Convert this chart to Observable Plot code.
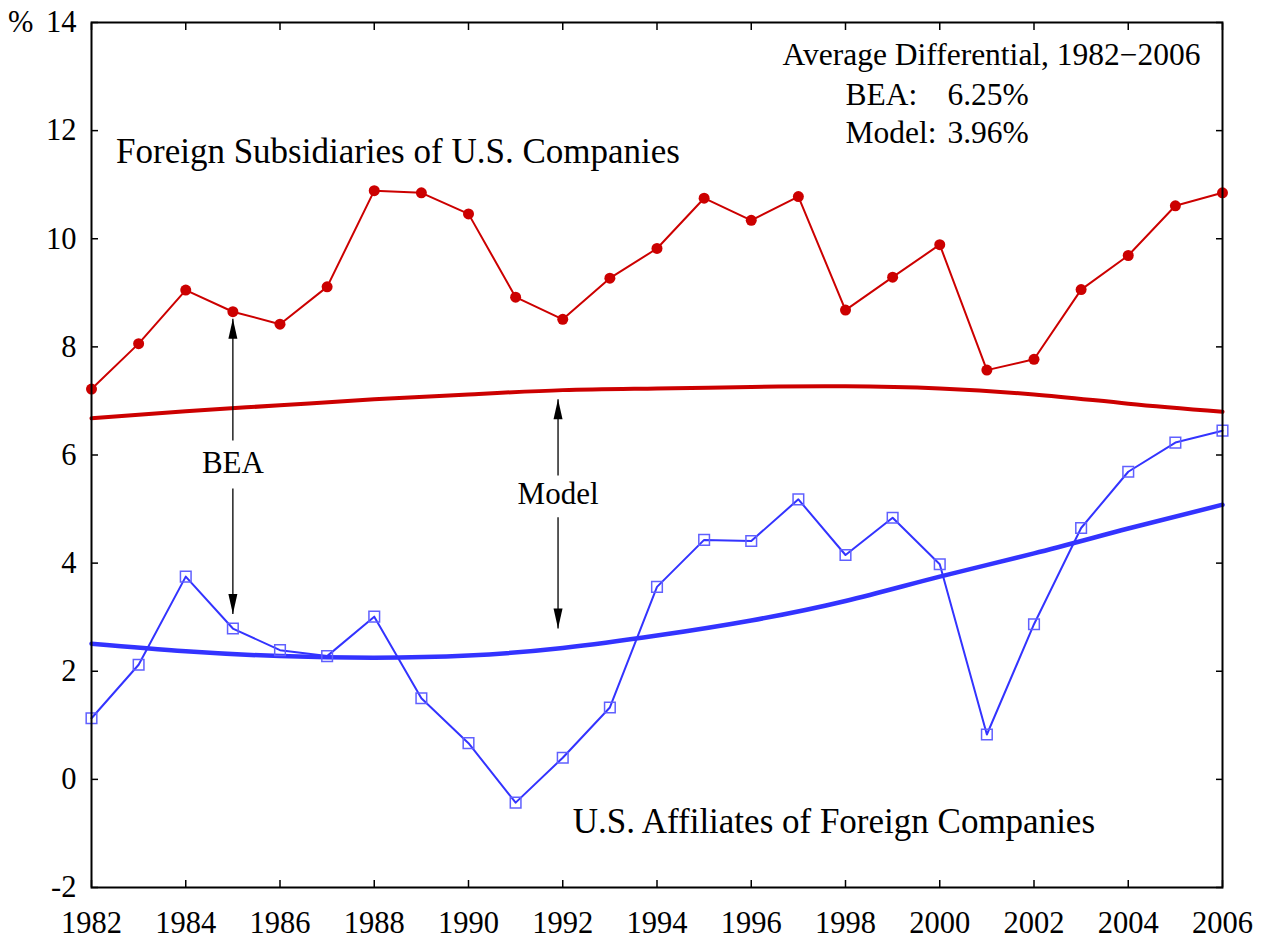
<!DOCTYPE html>
<html>
<head>
<meta charset="utf-8">
<script src="https://cdn.jsdelivr.net/npm/d3@7"></script>
<script src="https://cdn.jsdelivr.net/npm/@observablehq/plot@0.6"></script>
<style>
  html, body { margin: 0; padding: 0; background: #fff; }
  #chart svg { display: block; }
  #chart svg text { font-family: 'Liberation Serif', 'Times New Roman', Times, serif; }
</style>
</head>
<body>
<div id="chart"></div>
<script>
// ---- Data ----
const years = [1982, 1983, 1984, 1985, 1986, 1987, 1988, 1989, 1990, 1991, 1992, 1993, 1994,
               1995, 1996, 1997, 1998, 1999, 2000, 2001, 2002, 2003, 2004, 2005, 2006];
const foreignSubsBEA = [7.22, 8.06, 9.05, 8.65, 8.42, 9.11, 10.89, 10.85, 10.46, 8.92, 8.51, 9.27, 9.82,
                        10.75, 10.34, 10.78, 8.68, 9.29, 9.89, 7.57, 7.77, 9.06, 9.69, 10.61, 10.85];
const usAffiliatesBEA = [1.13, 2.12, 3.75, 2.79, 2.39, 2.28, 3.01, 1.50, 0.67, -0.43, 0.40, 1.33, 3.56,
                         4.43, 4.41, 5.18, 4.15, 4.84, 3.98, 0.83, 2.87, 4.65, 5.69, 6.23, 6.45];
const modelYears = [1982, 1984, 1986, 1988, 1990, 1992, 1994, 1996, 1998, 2000, 2002, 2004, 2006];
const foreignSubsModel = [6.68, 6.81, 6.92, 7.03, 7.12, 7.20, 7.23, 7.26, 7.27, 7.23, 7.12, 6.95, 6.80];
const usAffiliatesModel = [2.51, 2.37, 2.28, 2.25, 2.29, 2.43, 2.66, 2.94, 3.30, 3.75, 4.18, 4.64, 5.08];

const xTicks = [1982, 1984, 1986, 1988, 1990, 1992, 1994, 1996, 1998, 2000, 2002, 2004, 2006];
const yTicks = [-2, 0, 2, 4, 6, 8, 10, 12, 14];
const yUnit = "%";

// annotations (data coordinates)
const seriesLabels = [
  {text: "Foreign Subsidiaries of U.S. Companies", year: 1982.52, value: 11.40},
  {text: "U.S. Affiliates of Foreign Companies", year: 1992.21, value: -0.99}
];
const arrowLabels = [
  {text: "BEA", year: 1985, value: 5.66},
  {text: "Model", year: 1991.9, value: 5.10}
];
const arrows = [
  {year: 1985, from: 6.27, to: 8.52},
  {year: 1985, from: 5.38, to: 3.06},
  {year: 1991.9, from: 5.62, to: 7.03},
  {year: 1991.9, from: 4.85, to: 2.79}
];
const summaryTitle = [{text: "Average Differential, 1982\u22122006", year: 2001.1, value: 13.21}];
const summaryRows = [
  {label: "BEA:", value: "6.25%", labelYear: 1998.0, valueYear: 2001.89, y: 12.47},
  {label: "Model:", value: "3.96%", labelYear: 1998.0, valueYear: 2001.89, y: 11.77}
];

// ---- Tables ----
const bea = years.map((y, i) => ({year: y, fs: foreignSubsBEA[i], us: usAffiliatesBEA[i]}));
const model = modelYears.map((y, i) => ({year: y, fs: foreignSubsModel[i], us: usAffiliatesModel[i]}));

const RED = "#cc0000";
const BLUE = "#3333ff";
const FONT = "'Liberation Serif', 'Times New Roman', Times, serif";
const TICK_FS = 30.5;

// narrow filled arrowhead, tip at origin pointing up
const arrowHead = {
  draw(context) {
    context.moveTo(0, 0);
    context.lineTo(-4.5, 20);
    context.lineTo(4.5, 20);
    context.closePath();
  }
};

const chart = Plot.plot({
  width: 1268,
  height: 946,
  marginLeft: 91,
  marginRight: 46,
  marginTop: 22,
  marginBottom: 59,
  style: {fontFamily: FONT, fontSize: "29px", background: "#fff", color: "#000"},
  x: {domain: [1982, 2006]},
  y: {domain: [-2, 14]},
  marks: [
    // axes: labels
    Plot.axisY({ticks: yTicks, anchor: "left", tickSize: 0, tickPadding: 15, fontSize: TICK_FS, fontFamily: FONT,
                fontVariant: "normal", label: null, tickFormat: d => `${d}`}),
    Plot.axisX({ticks: xTicks, anchor: "bottom", tickSize: 0, tickPadding: 24, fontSize: TICK_FS, fontFamily: FONT,
                fontVariant: "normal", label: null, tickFormat: d => `${d}`}),
    // inward ticks on all sides
    Plot.axisY({ticks: yTicks, anchor: "left", tickSize: -7, fill: "none", label: null, strokeWidth: 1.5}),
    Plot.axisY({ticks: yTicks, anchor: "right", tickSize: -7, fill: "none", label: null, strokeWidth: 1.5}),
    Plot.axisX({ticks: xTicks, anchor: "bottom", tickSize: -7, fill: "none", label: null, strokeWidth: 1.5}),
    Plot.axisX({ticks: xTicks, anchor: "top", tickSize: -7, fill: "none", label: null, strokeWidth: 1.5}),
    Plot.text([yUnit], {frameAnchor: "top-left", text: d => d, textAnchor: "end", lineAnchor: "middle",
                        dx: -58, fontSize: TICK_FS, fontFamily: FONT}),

    // model curves
    Plot.line(model, {x: "year", y: "fs", stroke: RED, strokeWidth: 4, curve: "natural"}),
    Plot.line(model, {x: "year", y: "us", stroke: BLUE, strokeWidth: 4.5, curve: "natural"}),

    // BEA series
    Plot.line(bea, {x: "year", y: "fs", stroke: RED, strokeWidth: 2}),
    Plot.dot(bea, {x: "year", y: "fs", r: 5.5, fill: RED, stroke: "none"}),
    Plot.line(bea, {x: "year", y: "us", stroke: BLUE, strokeWidth: 2}),
    Plot.dot(bea, {x: "year", y: "us", r: 6, symbol: "square", fill: "none", stroke: "#6060ff", strokeWidth: 1.5}),

    // arrows
    Plot.link(arrows, {x1: "year", x2: "year", y1: "from", y2: "to", stroke: "#000", strokeWidth: 1.3}),
    Plot.dot(arrows, {x: "year", y: "to", r: 5, symbol: arrowHead, fill: "#000", stroke: "none",
                      rotate: d => (d.to > d.from ? 0 : 180)}),
    Plot.text(arrowLabels, {x: "year", y: "value", text: "text", textAnchor: "middle", lineAnchor: "bottom",
                            fontSize: 31, fontFamily: FONT}),

    // series labels
    Plot.text(seriesLabels, {x: "year", y: "value", text: "text", textAnchor: "start", lineAnchor: "bottom",
                             fontSize: 35, fontFamily: FONT}),

    // summary box
    Plot.text(summaryTitle, {x: "year", y: "value", text: "text", textAnchor: "middle", lineAnchor: "bottom",
                             fontSize: 31.5, fontFamily: FONT}),
    Plot.text(summaryRows, {x: "labelYear", y: "y", text: "label", textAnchor: "start", lineAnchor: "bottom",
                            fontSize: 31.5, fontFamily: FONT}),
    Plot.text(summaryRows, {x: "valueYear", y: "y", text: "value", textAnchor: "end", lineAnchor: "bottom",
                            fontSize: 31.5, fontFamily: FONT}),

    Plot.frame({stroke: "#000", strokeWidth: 2})
  ]
});

document.getElementById("chart").appendChild(chart);
</script>
</body>
</html>
